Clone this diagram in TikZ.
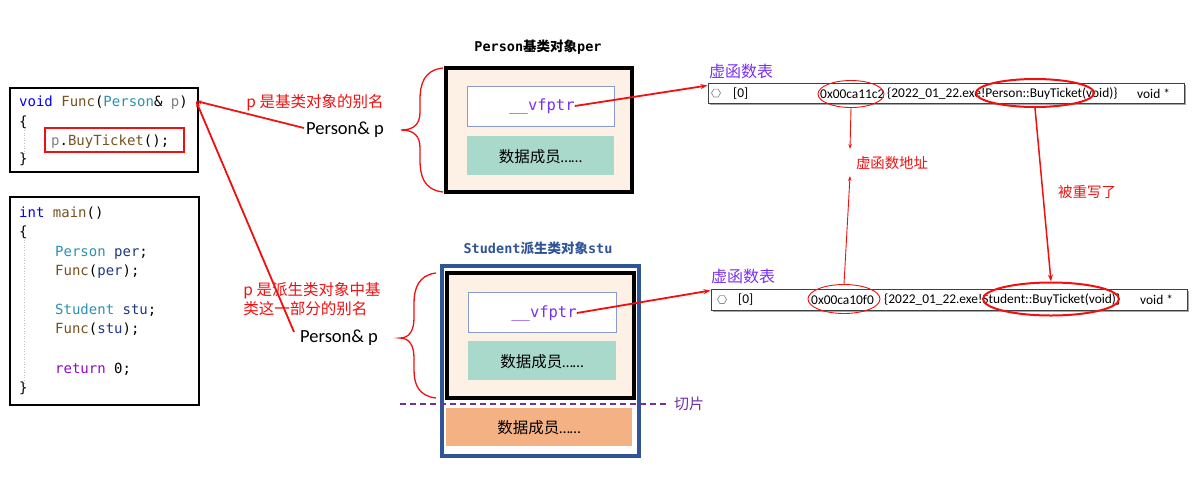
\documentclass[tikz,border=0pt]{standalone}
\usepackage{fontspec}
\setmainfont{Carlito}
\newfontfamily\cjk{Noto Sans CJK SC}
\newfontfamily\mono{DejaVu Sans Mono}
\usetikzlibrary{shapes.geometric,arrows.meta,calc}
\definecolor{kw}{HTML}{0000FF}
\definecolor{fn}{HTML}{74531F}
\definecolor{ty}{HTML}{2B91AF}
\definecolor{par}{HTML}{808080}
\definecolor{var}{HTML}{1F377F}
\definecolor{ret}{HTML}{8F08C4}
\definecolor{peach}{HTML}{FDF0E5}
\definecolor{teal}{HTML}{A9D9CA}
\definecolor{orng}{HTML}{F4B183}
\definecolor{vfb}{HTML}{8A9ACB}
\definecolor{vio}{HTML}{7A2FF2}
\definecolor{slice}{HTML}{7030A0}
\definecolor{stub}{HTML}{2F5597}
\definecolor{myred}{HTML}{F01010}
\tikzset{
  codeline/.style={anchor=base west, inner sep=0pt, font=\mono\fontsize{14}{17}\selectfont},
  redtxt/.style={inner sep=0pt, text=myred, font=\cjk\fontsize{15.5}{19}\selectfont, align=left},
  blacktxt/.style={inner sep=0pt, font=\fontsize{18.5}{20}\selectfont},
  membox/.style={rectangle, inner sep=0pt},
  datatxt/.style={inner sep=0pt, font=\fontsize{15.5}{18}\selectfont},
  vftxt/.style={inner sep=0pt, text=vio, font=\mono\fontsize{15.5}{18}\selectfont},
  rowbox/.style={rectangle, draw=black!75, line width=1pt, fill=white, inner sep=0pt},
  rowtxt/.style={anchor=west, inner sep=0pt, font=\fontsize{13.4}{15}\selectfont},
  vtlabel/.style={inner sep=0pt, text=vio, font=\cjk\fontsize{16}{18}\selectfont},
  redline/.style={draw=myred, line width=1.8pt},
  redarrow/.style={draw=myred, line width=1.8pt, -{Stealth[length=7pt,width=5pt]}},
  thinarrow/.style={draw=myred, line width=0.9pt, -{Stealth[length=5pt,width=3.5pt]}},
  oval/.style={ellipse, draw=myred, inner sep=0pt},
  brace/.style={draw=myred, line width=1.3pt},
}
\begin{document}
\begin{tikzpicture}[x=1pt,y=-1pt]
\useasboundingbox (0,0) rectangle (1203,483);

% ---------- code box 1 ----------
\node[membox, draw=black, line width=2.8pt, minimum width=188pt, minimum height=84pt] (code1) at (104,130) {};
\draw[black!25, dotted, line width=0.6pt] (24,130) -- (24,154);
\node[codeline] (c1a) at (19,106) {\textcolor{kw}{void} \textcolor{fn}{Func}(\textcolor{ty}{Person}\& \textcolor{par}{p})};
\node[codeline] (c1b) at (19,126) {\{};
\node[membox, draw=myred, line width=1.4pt, minimum width=139pt, minimum height=24pt] (redbox) at (114.5,140) {};
\node[codeline] (c1c) at (51,145) {\textcolor{par}{p}.\textcolor{fn}{BuyTicket}();};
\node[codeline] (c1d) at (19,163) {\}};

% ---------- code box 2 ----------
\node[membox, draw=black, line width=2.8pt, minimum width=189pt, minimum height=208pt] (code2) at (104.5,301) {};
\draw[black!25, dotted, line width=0.6pt] (24,237) -- (24,384);
\node[codeline] (m1) at (19,217) {\textcolor{kw}{int} \textcolor{fn}{main}()};
\node[codeline] (m2) at (19,236) {\{};
\node[codeline] (m3) at (55,256) {\textcolor{ty}{Person} \textcolor{var}{per};};
\node[codeline] (m4) at (55,275) {\textcolor{fn}{Func}(\textcolor{var}{per});};
\node[codeline] (m5) at (55,314) {\textcolor{ty}{Student} \textcolor{var}{stu};};
\node[codeline] (m6) at (55,333) {\textcolor{fn}{Func}(\textcolor{var}{stu});};
\node[codeline] (m7) at (55,373) {\textcolor{ret}{return} 0;};
\node[codeline] (m8) at (19,392) {\}};

% ---------- labels and lines ----------
\coordinate (pp) at (196,101);
\node[redtxt] (lab1) at (315,103) {p 是基类对象的别名};
\node[redtxt] (lab2) at (312,299) {p 是派生类对象中基\\类这一部分的别名};
\node[blacktxt, anchor=west] (pa) at (306,130) {Person\& p};
\node[blacktxt, anchor=west] (pb) at (300,338) {Person\& p};
\draw[redline, {Stealth[length=6pt,width=4pt]}-] (pp) -- ($(pa.west)+(-2,-2)$);
\draw[redline, {Stealth[length=6pt,width=4pt]}-] (pp) -- ($(pb.west)+(-6,-6)$);

% ---------- braces ----------
\draw[brace] (443,68) .. controls (424,70) and (420,84) .. (420,100) -- (420,112)
  .. controls (420,124) and (414,130) .. (401,130)
  .. controls (414,130) and (420,136) .. (420,148) -- (420,160)
  .. controls (420,176) and (424,190) .. (443,192);
\draw[brace] (436,273) .. controls (419,275) and (414,288) .. (414,303) -- (414,318)
  .. controls (414,331) and (409,338) .. (400,338)
  .. controls (409,338) and (414,345) .. (414,358) -- (414,370)
  .. controls (414,385) and (419,396) .. (436,398);

% ---------- Person object ----------
\node[inner sep=0pt, font=\fontsize{13.5}{16}\selectfont] (t1) at (538,47) {\bfseries{\mono Person}{\cjk 基类对象}{\mono per}};
\node[membox, draw=black, line width=3.2pt, fill=peach, minimum width=186pt, minimum height=124pt] (per) at (539,130) {};
\node[membox, draw=vfb, line width=1pt, fill=white, minimum width=147pt, minimum height=40pt] (vf1) at (540.5,106) {};
\node[vftxt] (vf1t) at (542,106) {\_\_vfptr};
\node[membox, fill=teal, minimum width=147pt, minimum height=39pt] (d1) at (540.5,155.5) {};
\node[datatxt] (d1t) at (540.5,157) {{\cjk 数据成员}……};

% ---------- Student object ----------
\node[inner sep=0pt, text=stub, font=\fontsize{13.5}{16}\selectfont] (t2) at (538,248) {\bfseries{\mono Student}{\cjk 派生类对象}{\mono stu}};
\node[membox, draw=stub, line width=4pt, fill=white, minimum width=197pt, minimum height=190pt] (stuo) at (540,360.5) {};
\node[membox, draw=black, line width=3.2pt, fill=peach, minimum width=187pt, minimum height=125pt] (stui) at (540.5,335.5) {};
\node[membox, draw=vfb, line width=1pt, fill=white, minimum width=148pt, minimum height=40pt] (vf2) at (542,312) {};
\node[vftxt] (vf2t) at (544,313) {\_\_vfptr};
\node[membox, fill=teal, minimum width=148pt, minimum height=39pt] (d2) at (542,360.5) {};
\node[datatxt] (d2t) at (542,362) {{\cjk 数据成员}……};
\node[membox, fill=orng, minimum width=186pt, minimum height=38pt] (d3) at (539,427) {};
\node[datatxt] (d3t) at (539,428) {{\cjk 数据成员}……};
\coordinate (sl1) at (400,404);
\coordinate (sl2) at (666,404);
\draw[slice, line width=1.1pt, dash pattern=on 6pt off 4pt] (sl1) -- (sl2);
\node[inner sep=0pt, text=slice, font=\cjk\fontsize{15}{18}\selectfont] (qp) at (689,404) {切片};

% ---------- vtable 1 ----------
\node[vtlabel] (vt1) at (741,71) {虚函数表};
\fill[black!35] (710,85) rectangle (1186,105);
\node[rowbox, minimum width=476pt, minimum height=20pt] (row1) at (946,93) {};
\node[draw=black!45, line width=0.7pt, regular polygon, regular polygon sides=6, minimum size=9pt, inner sep=0pt] (ic1) at (716,93) {};
\node[rowtxt] (r1a) at (733,94) {[0]};
\node[rowtxt] (r1b) at (820,94) {0x00ca11c2};
\node[rowtxt] (r1c) at (887,94) {\{2022\_01\_22.exe!Person::BuyTicket(void)\}};
\node[rowtxt] (r1d) at (1137,94) {void *};
\node[oval, line width=0.9pt, minimum width=66pt, minimum height=27pt] (e1) at (851,94) {};
\node[oval, line width=2pt, minimum width=118pt, minimum height=28pt] (e2) at (1035,93) {};

% ---------- vtable 2 ----------
\node[vtlabel] (vt2) at (743,276) {虚函数表};
\fill[black!35] (713,291) rectangle (1189,312);
\node[rowbox, minimum width=476pt, minimum height=21pt] (row2) at (949,299.5) {};
\node[draw=black!45, line width=0.7pt, regular polygon, regular polygon sides=6, minimum size=9pt, inner sep=0pt] (ic2) at (722,299.5) {};
\node[rowtxt] (r2a) at (738,300) {[0]};
\node[rowtxt] (r2b) at (811,300) {0x00ca10f0};
\node[rowtxt] (r2c) at (884,300) {\{2022\_01\_22.exe!Student::BuyTicket(void)\}};
\node[rowtxt] (r2d) at (1140,300) {void *};
\node[oval, line width=0.9pt, minimum width=72pt, minimum height=29pt] (e3) at (844,299) {};
\node[oval, line width=2pt, minimum width=136pt, minimum height=33pt] (e4) at (1051,299) {};

% ---------- arrows ----------
\draw[redarrow] (vf1t.east) -- ($(row1.north west)+(0,3)$);
\draw[redarrow] (vf2t.east) -- ($(row2.north west)+(0,2)$);
\node[inner sep=0pt, text=myred, font=\cjk\fontsize{14.4}{17}\selectfont] (addr) at (892,163) {虚函数地址};
\node[inner sep=0pt, text=myred, font=\cjk\fontsize{14.5}{17}\selectfont] (ovr) at (1087,192) {被重写了};
\coordinate (a1) at (850,149);
\coordinate (a2) at (850,176);
\draw[thinarrow] (e1.south) -- (a1);
\draw[thinarrow] (e3.north) -- (a2);
\draw[redarrow, line width=1.5pt] (e2.south) -- (e4.north);
\end{tikzpicture}
\end{document}
